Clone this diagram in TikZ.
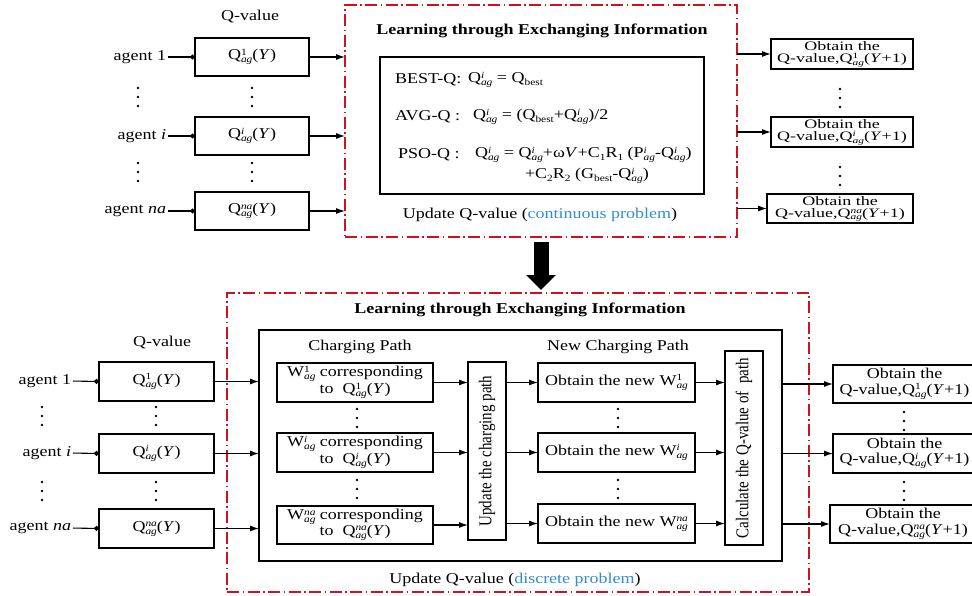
\documentclass[tikz,border=0pt]{standalone}
\usepackage{fontspec}
\setmainfont{Liberation Serif}[FakeStretch=1.2]
\newfontfamily\plainfont{Liberation Serif}
\usetikzlibrary{arrows.meta}
\definecolor{dred}{RGB}{204,20,30}
\definecolor{lblue}{RGB}{50,140,210}
\newsavebox\SupBox
\newsavebox\SubBox
\newcommand\SupSub[2]{%
  \sbox\SupBox{\fontsize{9.5}{9.5}\selectfont #1}%
  \sbox\SubBox{\fontsize{9.5}{9.5}\selectfont #2}%
  \raisebox{4.6pt}{\usebox\SupBox}\hspace{-\wd\SupBox}%
  \raisebox{-3pt}{\usebox\SubBox}%
  \ifdim\wd\SupBox>\wd\SubBox\hspace{\dimexpr\wd\SupBox-\wd\SubBox\relax}\fi}
\newcommand\Qx[1]{Q\SupSub{#1}{\itshape ag}}
\newcommand\Wx[1]{W\SupSub{#1}{\itshape ag}}
\newcommand\TwoL[3]{\scalebox{1}[#1]{\begin{tabular}{@{}c@{}}#2\\[-2pt]#3\end{tabular}}}
\newcommand\bx[6][box]{\node[#1,minimum width={#4-#2},minimum height={#5-#3}] (#6) at ({(#2+#4)/2},{(#3+#5)/2})}
\newcommand\vd[2]{\foreach \dd in {0,9,18}{\fill (#1,#2+\dd) circle (1.4pt);}}
\begin{document}
\begin{tikzpicture}[x=1pt,y=-1pt,
  every node/.style={font=\fontsize{15}{16}\selectfont, inner sep=0pt, outer sep=0pt},
  box/.style={draw, line width=1.2pt, align=center},
  mid/.style={font=\fontsize{15}{15.5}\selectfont},
  redbox/.style={draw=dred, line width=1.4pt, dash pattern=on 12pt off 3.5pt on 1.5pt off 3.5pt},
  arr/.style={line width=1.1pt, -{Latex[length=9pt,width=6pt]}},
  agl/.style={line width=1.1pt, -{Circle[length=5pt]}, shorten <=2pt},
  lbl/.style={anchor=east},
  bold/.style={font=\fontsize{15}{16}\selectfont\bfseries},
  vtext/.style={rotate=90}
]
\useasboundingbox (0,0) rectangle (972,595);
\clip (0,0) rectangle (972,595);

% ---------------- top part ----------------
\node (qvA) at (250,17) {Q-value};
\bx{195}{38}{309}{76}{q1} {\Qx{1}(\textit{Y})};
\bx{195}{117}{309}{155}{qi} {\Qx{\itshape i}(\textit{Y})};
\bx{195}{192}{309}{230}{qn} {\Qx{\itshape na}(\textit{Y})};
\node[lbl] (a1) at (166,57) {agent 1};
\node[lbl] (ai) at (166,136) {agent \textit{i}};
\node[lbl] (an) at (166,211) {agent \textit{na}};
\draw[agl] (a1.east) -- (q1.west);
\draw[agl] (ai.east) -- (qi.west);
\draw[agl] (an.east) -- (qn.west);
\vd{138}{88} \vd{138}{163} \vd{252}{88} \vd{252}{163}

\bx[redbox]{345}{5}{737}{237}{R1} {};
\node[bold] (t1) at (542,31) {Learning through Exchanging Information};
\bx{380}{57}{704}{194}{ib1} {};
\node[anchor=west] (bq) at (395,80) {BEST-Q:};
\node[anchor=west] (bqf) at (468,80) {\Qx{\itshape i} = Q\SupSub{}{best}};
\node[anchor=west] (aq) at (395,117) {AVG-Q :};
\node[anchor=west] (aqf) at (473,117) {\Qx{\itshape i} = (Q\SupSub{}{best}+\Qx{\itshape i})/2};
\node[anchor=west] (pq) at (398,155) {PSO-Q :};
\node[anchor=west] (pqf) at (475,155) {\Qx{\itshape i} = \Qx{\itshape i}+ω\textit{V}+C\SupSub{}{1}R\SupSub{}{1} (P\SupSub{\itshape i}{\itshape ag}-\Qx{\itshape i})};
\node[anchor=west] (pqg) at (525,176) {+C\SupSub{}{2}R\SupSub{}{2} (G\SupSub{}{best}-\Qx{\itshape i})};
\node (u1) at (540,215) {Update Q-value (\textcolor{lblue}{continuous problem})};

\draw[arr] (q1.east) -- (q1.east -| R1.west);
\draw[arr] (qi.east) -- (qi.east -| R1.west);
\draw[arr] (qn.east) -- (qn.east -| R1.west);

\bx{771}{39}{913}{69}{o1} {\TwoL{0.86}{Obtain the}{Q-value,\Qx{1}(\textit{Y}+1)}};
\bx{771}{117}{913}{147}{oi} {\TwoL{0.86}{Obtain the}{Q-value,\Qx{\itshape i}(\textit{Y}+1)}};
\bx{767}{194}{913}{223}{on} {\TwoL{0.86}{Obtain the}{Q-value,\Qx{\itshape na}(\textit{Y}+1)}};
\draw[arr] (R1.east |- o1.west) -- (o1.west);
\draw[arr] (R1.east |- oi.west) -- (oi.west);
\draw[arr] (R1.east |- on.west) -- (on.west);
\vd{840}{89} \vd{840}{167}

% ---------------- big arrow ----------------
\bx[redbox]{227}{293}{809}{592}{R2} {};
\draw[line width=15pt, -{Triangle[length=15pt,width=29pt]}, shorten <=5pt, shorten >=3pt]
  (R1.south) -- (R1.south |- R2.north);

% ---------------- bottom part ----------------
\node[bold] (t2) at (520,310) {Learning through Exchanging Information};
\node (qvB) at (162,343) {Q-value};
\bx{99}{362}{214}{401}{b1} {\Qx{1}(\textit{Y})};
\bx{99}{434}{214}{473}{bi} {\Qx{\itshape i}(\textit{Y})};
\bx{99}{509}{214}{548}{bn} {\Qx{\itshape na}(\textit{Y})};
\node[lbl] (g1) at (71,381) {agent 1};
\node[lbl] (gi) at (71,453) {agent \textit{i}};
\node[lbl] (gn) at (71,528) {agent \textit{na}};
\draw[agl] (g1.east) -- (b1.west);
\draw[agl] (gi.east) -- (bi.west);
\draw[agl] (gn.east) -- (bn.west);
\vd{42}{407} \vd{42}{482} \vd{156}{407} \vd{156}{482}

\bx{259}{330}{782}{561}{B2} {};
\draw[arr] (b1.east) -- (b1.east -| B2.west);
\draw[arr] (bi.east) -- (bi.east -| B2.west);
\draw[arr] (bn.east) -- (bn.east -| B2.west);

\node (cp) at (360,347) {Charging Path};
\node (ncp) at (618,347) {New Charging Path};
\bx[box,mid]{277}{363}{433}{402}{c1} {\Wx{1} corresponding\\to~~\Qx{1}(\textit{Y})};
\bx[box,mid]{277}{433}{433}{472}{ci} {\Wx{\itshape i} corresponding\\to~~\Qx{\itshape i}(\textit{Y})};
\bx[box,mid]{277}{506}{433}{544}{cn} {\Wx{\itshape na} corresponding\\to~~\Qx{\itshape na}(\textit{Y})};
\vd{357}{409} \vd{357}{480}

\bx{468}{362}{506}{540}{up} {};
\node[vtext] (upt) at (up.center) {\scalebox{1}[1.2]{\plainfont Update the charging path}};
\draw[arr] (c1.east) -- (c1.east -| up.west);
\draw[arr] (ci.east) -- (ci.east -| up.west);
\draw[arr] (cn.east) -- (cn.east -| up.west);

\bx{538}{363}{695}{402}{n1} {Obtain the new \Wx{1}};
\bx{538}{433}{695}{472}{ni} {Obtain the new \Wx{\itshape i}};
\bx{538}{504}{695}{543}{nn} {Obtain the new \Wx{\itshape na}};
\vd{618}{409} \vd{618}{480}
\draw[arr] (up.east |- n1.west) -- (n1.west);
\draw[arr] (up.east |- ni.west) -- (ni.west);
\draw[arr] (up.east |- nn.west) -- (nn.west);

\bx{725}{351}{763}{545}{ca} {};
\node[vtext] (cat) at (ca.center) {\scalebox{1}[1.2]{\plainfont Calculate the Q-value of~~path}};
\draw[arr] (n1.east) -- (n1.east -| ca.west);
\draw[arr] (ni.east) -- (ni.east -| ca.west);
\draw[arr] (nn.east) -- (nn.east -| ca.west);

\bx[box,mid]{833}{365}{976}{403}{r1} {Obtain the\\Q-value,\Qx{1}(\textit{Y}+1)};
\bx[box,mid]{833}{434}{976}{473}{ri} {Obtain the\\Q-value,\Qx{\itshape i}(\textit{Y}+1)};
\bx[box,mid]{830}{505}{976}{543}{rn} {Obtain the\\Q-value,\Qx{\itshape na}(\textit{Y}+1)};
\draw[arr] (B2.east |- r1.west) -- (r1.west);
\draw[arr] (B2.east |- ri.west) -- (ri.west);
\draw[arr] (B2.east |- rn.west) -- (rn.west);
\vd{904}{412} \vd{904}{482}

\node (u2) at (515,580) {Update Q-value (\textcolor{lblue}{discrete problem})};
\end{tikzpicture}
\end{document}
